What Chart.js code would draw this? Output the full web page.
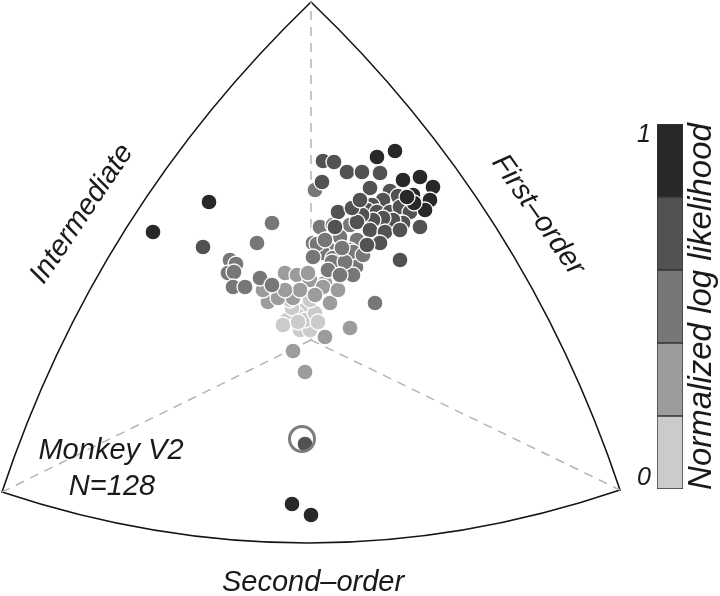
<!DOCTYPE html>
<html>
<head>
<meta charset="utf-8">
<script src="https://cdn.jsdelivr.net/npm/chart.js@4.4.0/dist/chart.umd.min.js"></script>
<style>
  html, body { margin: 0; padding: 0; background: #fff; }
  #wrap { position: relative; width: 720px; height: 596px; }
  #tri { position: absolute; left: 0; top: 0; }
  #bar { position: absolute; left: 620px; top: 100px; }
</style>
</head>
<body>
<div id="wrap">
  <canvas id="tri" width="720" height="596"></canvas>
  <canvas id="bar" width="100" height="410"></canvas>
</div>
<script>
// grey levels of the colour bar, lowest likelihood first
const levelColors = ['#cbcbcb', '#9c9c9c', '#777777', '#525252', '#282828'];
const levelSteps = [0.2, 0.2, 0.2, 0.2, 0.2];
const barTickLabels = ['0', '1'];

// cell positions, centre of the triangle = (0, 0), one unit ~ one pixel
const level1 = [
  [-6, 30], [-14, 25], [-24, 20], [-28, 15], [-11, 10], [-1, 10], [-6, 20],
  [4, 27], [-19, 32], [-1, 40], [7, 18], [-13, 18], [-21, 40],
];
const level2 = [
  [-43, 38], [-33, 42], [-26, 67], [-14, 65], [-1, 60], [14, 57], [-18, 42],
  [19, 37], [14, 3], [-18, -11], [39, 12], [-6, -32], [-3, 67], [12, 53],
  [-11, 50], [4, 45], [-26, 50], [-48, 50], [27, 50],
];
const level3 = [
  [4, 150], [9, 113], [22, 115], [39, 115], [29, 103], [46, 100], [2, 97],
  [19, 90], [39, 90], [-39, 117], [-54, 97], [12, 87], [22, 82], [42, 88],
  [6, 96], [45, 73], [42, 65], [64, 37], [-81, 80], [-75, 76], [-83, 67],
  [-77, 68], [-78, 53], [-66, 53], [-51, 62], [-39, 55], [2, 83], [21, 78],
  [34, 78], [14, 100], [31, 92], [52, 85], [17, 70], [29, 65],
];
const level4 = [
  [12, 179], [23, 178], [36, 168], [51, 168], [69, 167], [11, 158], [59, 152],
  [79, 149], [87, 144], [72, 140], [61, 135], [56, 130], [66, 128], [79, 128],
  [89, 133], [99, 128], [109, 113], [92, 117], [82, 120], [72, 122], [62, 120],
  [51, 125], [46, 118], [59, 110], [74, 108], [89, 110], [69, 97], [27, 128],
  [89, 80], [41, 132], [49, 140], [56, 95], [-108, 93], [-6, -104], [24, 113],
];
const level5 = [
  [84, 189], [66, 183], [92, 160], [109, 163], [122, 153], [102, 145],
  [119, 140], [114, 130], [103, 137], [96, 143], [-102, 138], [-158, 108],
  [-19, -164], [0, -175],
];
const highlighted = [[-9, -99]];

// triangle corners and the control points of its curved sides
const vertexTop = [0, 338];
const vertexLeft = [-309, -152];
const vertexRight = [309, -150];
const bendLeft = [-215, 131];
const bendBottom = [0, -255];
const bendRight = [215, 132];

const toPoints = (arr) => arr.map(([x, y]) => ({ x, y }));

const levelSets = [level1, level2, level3, level4, level5].map((pts, i) => ({
  data: toPoints(pts),
  pointRadius: 8,
  pointHoverRadius: 8,
  pointBackgroundColor: levelColors[i],
  pointBorderColor: '#ffffff',
  pointBorderWidth: 1.3,
  order: 5 - i,
}));

const guideSets = [vertexTop, vertexLeft, vertexRight].map((v) => ({
  data: [{ x: 0, y: 0 }, { x: v[0], y: v[1] }],
  showLine: true,
  pointRadius: 0,
  borderColor: '#b4b4b4',
  borderWidth: 1.5,
  borderDash: [9, 7],
  order: 10,
}));

const ringSet = {
  data: toPoints(highlighted),
  pointRadius: 12.5,
  pointHoverRadius: 12.5,
  pointBackgroundColor: 'rgba(0,0,0,0)',
  pointBorderColor: '#7d7d7d',
  pointBorderWidth: 3,
  order: 0,
};

const labelFont = 'italic 29px "Liberation Sans", Arial, sans-serif';

const outlinePlugin = {
  id: 'outline',
  beforeDatasetsDraw(chart) {
    const { ctx, scales: { x, y } } = chart;
    const px = (pt) => [x.getPixelForValue(pt[0]), y.getPixelForValue(pt[1])];
    ctx.save();
    ctx.strokeStyle = '#151515';
    ctx.lineWidth = 1.6;
    ctx.beginPath();
    ctx.moveTo(...px(vertexTop));
    ctx.quadraticCurveTo(...px(bendLeft), ...px(vertexLeft));
    ctx.quadraticCurveTo(...px(bendBottom), ...px(vertexRight));
    ctx.quadraticCurveTo(...px(bendRight), ...px(vertexTop));
    ctx.closePath();
    ctx.stroke();
    ctx.restore();
  },
  afterDraw(chart) {
    const { ctx } = chart;
    ctx.save();
    ctx.fillStyle = '#1a1a1a';
    ctx.font = labelFont;
    ctx.textAlign = 'center';
    ctx.textBaseline = 'middle';

    ctx.save();
    ctx.translate(82, 214);
    ctx.rotate((-56 * Math.PI) / 180);
    ctx.fillText('Intermediate', 0, 0);
    ctx.restore();

    ctx.save();
    ctx.translate(538, 215);
    ctx.rotate((55 * Math.PI) / 180);
    ctx.fillText('First\u2013order', 0, 0);
    ctx.restore();

    ctx.textBaseline = 'alphabetic';
    ctx.fillText('Second\u2013order', 313, 591);
    ctx.fillText('Monkey V2', 111, 459);
    ctx.fillText('N=128', 112, 495);
    ctx.restore();
  },
};

new Chart(document.getElementById('tri'), {
  type: 'scatter',
  data: { datasets: [...guideSets, ...levelSets, ringSet] },
  options: {
    responsive: false,
    animation: false,
    layout: { padding: 0, autoPadding: false },
    plugins: { legend: { display: false }, tooltip: { enabled: false } },
    scales: {
      x: { type: 'linear', min: -311, max: 409, display: false },
      y: { type: 'linear', min: -256, max: 340, display: false },
    },
  },
  plugins: [outlinePlugin],
});

const barLabelPlugin = {
  id: 'barLabel',
  afterDraw(chart) {
    const { ctx, chartArea } = chart;
    ctx.save();
    ctx.fillStyle = '#1a1a1a';
    ctx.font = 'italic 33px "Liberation Sans", Arial, sans-serif';
    ctx.textAlign = 'center';
    ctx.textBaseline = 'middle';
    ctx.translate(chartArea.right + 19, (chartArea.top + chartArea.bottom) / 2);
    ctx.rotate(-Math.PI / 2);
    ctx.fillText('Normalized log likelihood', 0, 0);
    ctx.restore();
  },
};

new Chart(document.getElementById('bar'), {
  type: 'bar',
  data: {
    labels: [''],
    datasets: levelSteps.map((v, i) => ({
      data: [v],
      backgroundColor: levelColors[i],
      borderColor: '#333333',
      borderWidth: 1,
      borderSkipped: false,
      barPercentage: 1,
      categoryPercentage: 1,
    })),
  },
  options: {
    responsive: false,
    animation: false,
    layout: { padding: { top: 24, bottom: 21, right: 37, left: 0 } },
    plugins: { legend: { display: false }, tooltip: { enabled: false } },
    scales: {
      x: { stacked: true, display: false },
      y: {
        stacked: true,
        min: 0,
        max: 1,
        grid: { display: false, drawTicks: false },
        border: { display: false },
        afterFit(scale) { scale.width = 37; },
        afterBuildTicks(scale) { scale.ticks = [{ value: 0.03 }, { value: 0.97 }]; },
        ticks: {
          padding: 6,
          color: '#1a1a1a',
          font: { family: '"Liberation Sans", Arial, sans-serif', size: 25, style: 'italic' },
          callback: (v) => (v < 0.5 ? barTickLabels[0] : barTickLabels[1]),
        },
      },
    },
  },
  plugins: [barLabelPlugin],
});
</script>
</body>
</html>
